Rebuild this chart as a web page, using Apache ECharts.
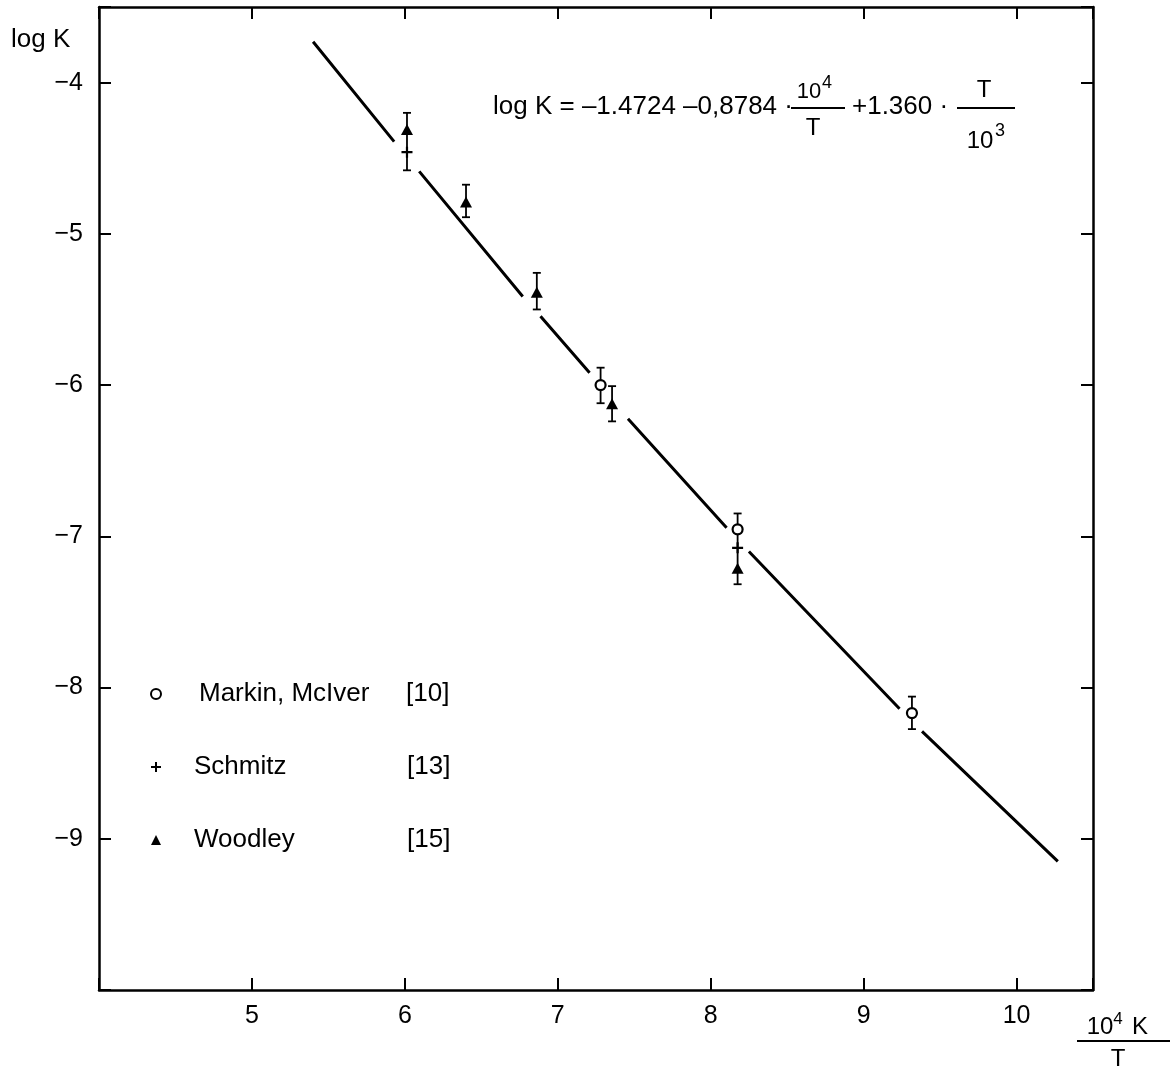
<!DOCTYPE html>
<html>
<head>
<meta charset="utf-8">
<script src="https://cdn.jsdelivr.net/npm/echarts@6/dist/echarts.min.js"></script>
<style>
html,body{margin:0;padding:0;background:#fff;}
#chart{width:1171px;height:1071px;}
</style>
</head>
<body>
<div id="chart"></div>
<script>
// ---- data ----
// fitted curve segments (null = gap in the drawn line)
const fitX = [5.40, 5.93, null, 6.094, 6.771, null, 6.887, 7.208, null, 7.459, 8.104, null, 8.25, 9.235, null, 9.382, 10.27];
const fitY = [-3.73, -4.39, null, -4.587, -5.414, null, -5.545, -5.918, null, -6.222, -6.944, null, -7.10, -8.14, null, -8.29, -9.15];

const markinX = [7.28, 8.176, 9.316];
const markinY = [-6.00, -6.954, -8.169];
const schmitzX = [6.014, 8.176];
const schmitzY = [-4.46, -7.076];
const woodleyX = [6.014, 6.40, 6.863, 7.355, 8.176];
const woodleyY = [-4.31, -4.79, -5.386, -6.123, -7.212];

const errX = [6.014, 6.40, 6.863, 7.28, 7.355, 8.176, 9.316];
const errLow = [-4.58, -4.89, -5.50, -6.12, -6.24, -7.317, -8.275];
const errHigh = [-4.20, -4.675, -5.258, -5.885, -6.007, -6.849, -8.06];

const xTicks = [5, 6, 7, 8, 9, 10];
const yTicks = [-4, -5, -6, -7, -8, -9];

const legendNames = ['Markin, McIver', 'Schmitz', 'Woodley'];
const legendRefs = ['[10]', '[13]', '[15]'];

// ---- chart ----
const FONT = '"Liberation Sans", Arial, sans-serif';
const chart = echarts.init(document.getElementById('chart'));
const pair = (xs, ys) => xs.map((x, i) => (x === null ? ['-', '-'] : [x, ys[i]]));
const crossPath = 'path://M4,0 L6,0 L6,4 L10,4 L10,6 L6,6 L6,10 L4,10 L4,6 L0,6 L0,4 L4,4 Z';

const axisLine = { show: true, onZero: false, lineStyle: { color: '#000', width: 2.5 } };
const axisTick = { show: true, inside: true, length: 12, lineStyle: { color: '#000', width: 2 } };

const txt = (text, x, y, size, align) => ({
  type: 'text', x: x, y: y,
  style: { text: text, fill: '#000', font: size + 'px ' + FONT, align: align || 'left', verticalAlign: 'middle' }
});
const ln = (x1, y1, x2, y2) => ({
  type: 'line', shape: { x1: x1, y1: y1, x2: x2, y2: y2 }, style: { stroke: '#000', lineWidth: 2 }
});

chart.setOption({
  animation: false,
  backgroundColor: '#fff',
  grid: { left: 99, right: 78, top: 7, bottom: 81 },
  xAxis: [
    {
      type: 'value', min: 4, max: 10.5, interval: 1,
      axisLine: axisLine, axisTick: axisTick, splitLine: { show: false },
      axisLabel: {
        color: '#000', fontFamily: FONT, fontSize: 25, margin: 14,
        formatter: v => (xTicks.indexOf(v) >= 0 ? String(v) : '')
      }
    },
    {
      type: 'value', position: 'top', min: 4, max: 10.5, interval: 1,
      axisLine: axisLine, axisTick: axisTick, splitLine: { show: false }, axisLabel: { show: false }
    }
  ],
  yAxis: [
    {
      type: 'value', min: -10, max: -3.5, interval: 1,
      axisLine: axisLine, axisTick: axisTick, splitLine: { show: false },
      axisLabel: {
        color: '#000', fontFamily: FONT, fontSize: 25, margin: 16,
        formatter: v => (yTicks.indexOf(v) >= 0 ? '\u2212' + Math.abs(v) : '')
      }
    },
    {
      type: 'value', position: 'right', min: -10, max: -3.5, interval: 1,
      axisLine: axisLine, axisTick: axisTick, splitLine: { show: false }, axisLabel: { show: false }
    }
  ],
  legend: {
    orient: 'vertical', left: 145, top: 676, itemGap: 47,
    itemWidth: 10, itemHeight: 10,
    data: [
      { name: legendNames[0], icon: 'circle', itemStyle: { color: '#fff', borderColor: '#000', borderWidth: 2 } },
      { name: legendNames[1], icon: crossPath, itemStyle: { color: '#000' } },
      { name: legendNames[2], icon: 'triangle', itemStyle: { color: '#000' } }
    ],
    formatter: name => {
      const i = legendNames.indexOf(name);
      const st = i === 0 ? 'a' : 'b';
      return '{' + st + '|' + name + '}{r|' + legendRefs[i] + '}';
    },
    textStyle: {
      color: '#000', fontFamily: FONT, fontSize: 26,
      rich: {
        a: { fontFamily: FONT, fontSize: 26, color: '#000', width: 207, padding: [0, 0, 0, 33] },
        b: { fontFamily: FONT, fontSize: 26, color: '#000', width: 213, padding: [0, 0, 0, 28] },
        r: { fontFamily: FONT, fontSize: 26, color: '#000' }
      }
    }
  },
  series: [
    {
      type: 'line', name: 'fit', data: pair(fitX, fitY), showSymbol: false, symbol: 'none',
      connectNulls: false, lineStyle: { color: '#000', width: 3 }, z: 2, silent: true
    },
    {
      type: 'custom', name: 'err', z: 3, silent: true,
      data: errX.map((x, i) => [x, errLow[i], errHigh[i]]),
      renderItem: (params, api) => {
        const lo = api.coord([api.value(0), api.value(1)]);
        const hi = api.coord([api.value(0), api.value(2)]);
        const w = 4;
        const s = { stroke: '#000', lineWidth: 1.8 };
        return {
          type: 'group', children: [
            { type: 'line', shape: { x1: lo[0], y1: lo[1], x2: hi[0], y2: hi[1] }, style: s },
            { type: 'line', shape: { x1: lo[0] - w, y1: lo[1], x2: lo[0] + w, y2: lo[1] }, style: s },
            { type: 'line', shape: { x1: hi[0] - w, y1: hi[1], x2: hi[0] + w, y2: hi[1] }, style: s }
          ]
        };
      }
    },
    {
      type: 'scatter', name: legendNames[0], data: pair(markinX, markinY), symbol: 'circle', symbolSize: 10,
      itemStyle: { color: '#fff', borderColor: '#000', borderWidth: 2.2, opacity: 1 }, z: 5
    },
    {
      type: 'scatter', name: legendNames[1], data: pair(schmitzX, schmitzY), symbol: crossPath, symbolSize: 11,
      itemStyle: { color: '#000', opacity: 1 }, z: 5
    },
    {
      type: 'scatter', name: legendNames[2], data: pair(woodleyX, woodleyY), symbol: 'triangle', symbolSize: [12, 11],
      itemStyle: { color: '#000', opacity: 1 }, z: 5
    }
  ],
  graphic: [
    txt('log K', 11, 40, 26),
    // equation
    txt('log K = \u20131.4724 \u20130,8784 \u00b7', 493, 107, 26),
    txt('10', 809, 92, 22, 'center'),
    txt('4', 827, 83, 18, 'center'),
    ln(791, 108, 845, 108),
    txt('T', 813, 128, 24, 'center'),
    txt('+1.360 \u00b7', 852, 107, 26),
    txt('T', 984, 90, 24, 'center'),
    ln(957, 108, 1015, 108),
    txt('10', 980, 141, 24, 'center'),
    txt('3', 1000, 131, 18, 'center'),
    // x-axis name
    txt('10', 1100, 1027, 24, 'center'),
    txt('4', 1118, 1019, 17, 'center'),
    txt('K', 1140, 1027, 24, 'center'),
    ln(1077, 1041, 1170, 1041),
    txt('T', 1118, 1059, 24, 'center')
  ]
});
</script>
</body>
</html>
